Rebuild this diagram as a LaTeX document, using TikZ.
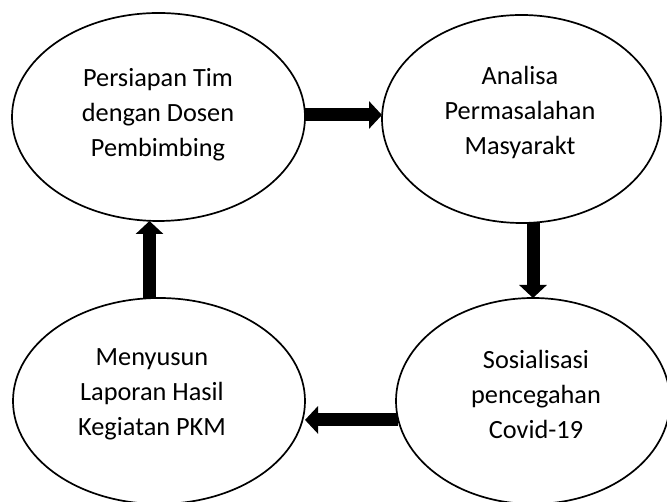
\documentclass[tikz,border=0pt]{standalone}
\usepackage{fontspec}
\setmainfont{Carlito}
\usetikzlibrary{arrows.meta,shapes.geometric}
\begin{document}
\begin{tikzpicture}[x=1pt,y=1pt,
  stage/.style={draw=black, line width=1.7pt, ellipse, inner sep=0pt, outer sep=0pt, fill=white},
  stagetext/.style={align=center, font=\fontsize{26.3}{35}\selectfont, inner sep=0pt},
  flow/.style={line width=13pt, -{Triangle[width=27pt,length=13pt]}}]
\useasboundingbox (0,0) rectangle (667,502);
\clip (0,0) rectangle (667,502);
\fill[white] (0,0) rectangle (667,502);
\node[stage, minimum width=293pt, minimum height=208pt] (e1) at (158.5,385) {};
\node[stage, minimum width=279pt, minimum height=208pt] (e2) at (521.5,383) {};
\node[stage, minimum width=292pt, minimum height=206pt] (e3) at (159,101) {};
\node[stage, minimum width=274pt, minimum height=206pt] (e4) at (533,101) {};
\node[stagetext] (t1) at (158,387) {Persiapan Tim\\dengan Dosen\\Pembimbing};
\node[stagetext] (t2) at (520,390) {Analisa\\Permasalahan\\Masyarakt};
\node[stagetext] (t3) at (152,108) {Menyusun\\Laporan Hasil\\Kegiatan PKM};
\node[stagetext] (t4) at (536,108) {Sosialisasi\\pencegahan\\Covid-19};
\coordinate (r1) at ([yshift=2pt]e1.east);
\draw[flow] (r1) -- (r1 -| e2.west);
\coordinate (d2) at (e4.north |- e2.south);
\draw[flow] (d2) -- (e4.north);
\coordinate (l4) at (e4.188.5);
\draw[flow] (l4) -- (l4 -| e3.east);
\coordinate (u3) at ([xshift=-9.5pt]e3.north);
\draw[flow] (u3) -- (u3 |- e1.south);
\end{tikzpicture}
\end{document}
